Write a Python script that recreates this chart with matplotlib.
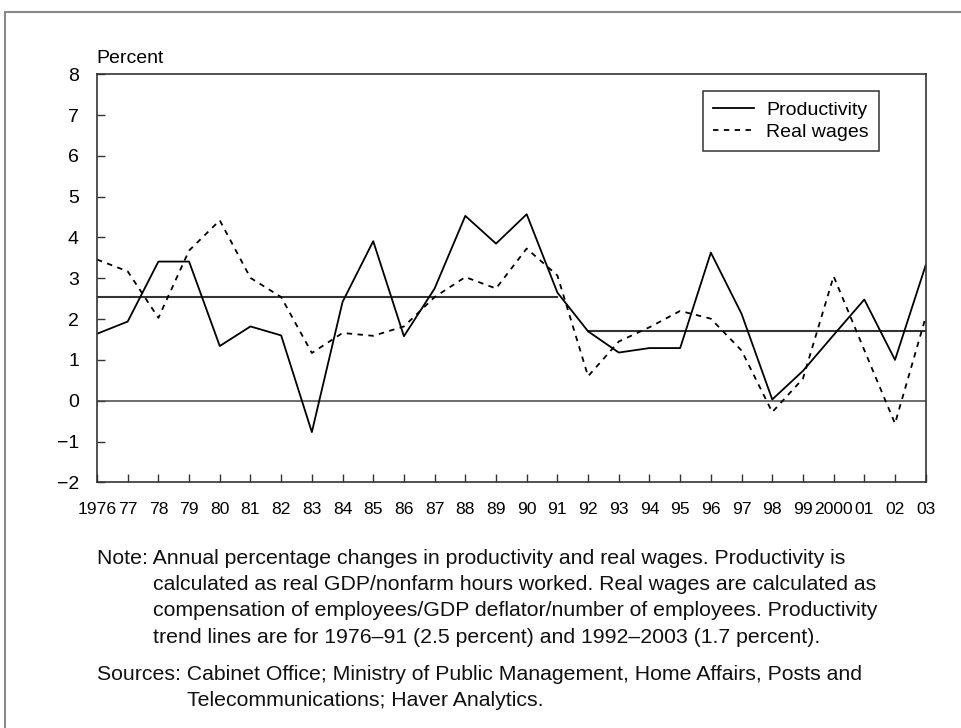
import matplotlib
matplotlib.use("Agg")
import matplotlib.pyplot as plt
from matplotlib.lines import Line2D

plt.rcParams['font.family'] = ['Liberation Sans', 'DejaVu Sans']

# data
years = list(range(1976, 2004))
productivity = [1.64, 1.94, 3.41, 3.41, 1.34, 1.82, 1.60, -0.77, 2.42, 3.91,
                1.58, 2.75, 4.53, 3.85, 4.57, 2.65, 1.70, 1.18, 1.29, 1.29,
                3.63, 2.13, 0.03, 0.73, 1.61, 2.48, 1.00, 3.32]
real_wages = [3.46, 3.17, 2.03, 3.68, 4.42, 3.01, 2.54, 1.17, 1.66, 1.59,
              1.82, 2.54, 3.03, 2.75, 3.73, 3.07, 0.60, 1.45, 1.80, 2.20,
              2.01, 1.23, -0.28, 0.54, 3.05, 1.24, -0.56, 2.05]
trend_periods = [(1976, 1991), (1992, 2003)]
trend_levels = [2.53, 1.70]
tick_labels = ["1976"] + [str(y)[2:] for y in range(1977, 2000)] + ["2000", "01", "02", "03"]

W, H = 962, 728
FS = 14
fig = plt.figure(figsize=(W / 100, H / 100), dpi=100)
fig.patch.set_facecolor("white")

ax = fig.add_axes([97 / W, 1 - 482.3 / H, 828.7 / W, 408 / H])

# zero line and trend lines
ax.plot([years[0], years[-1]], [0, 0], color="#444444", lw=1.1)
for (x0, x1), lvl in zip(trend_periods, trend_levels):
    ax.plot([x0, x1], [lvl, lvl], color="#333333", lw=1.5)

ax.plot(years, productivity, color="black", lw=1.3, label="Productivity")
ax.plot(years, real_wages, color="black", lw=1.3, ls=(0, (3, 3)), label="Real wages")

ax.set_xlim(1976, 2003)
ax.set_ylim(-2, 8)
ax.set_yticks(range(-2, 9))
ax.set_yticklabels([("\u2212" + str(-v)) if v < 0 else str(v) for v in range(-2, 9)])
ax.set_xticks(years)
ax.set_xticklabels(tick_labels)
ax.tick_params(axis="both", direction="in", length=6, width=1, color="#333333")
ax.tick_params(axis="y", labelsize=FS, pad=13)
ax.tick_params(axis="x", labelsize=12.6, pad=14)
for s in ax.spines.values():
    s.set_color("#333333")
    s.set_linewidth(1.2)

leg = ax.legend(loc="upper right",
                bbox_to_anchor=((879.3 - 97) / 828.7, (482.3 - 90.7) / 408),
                borderaxespad=0, fancybox=False, edgecolor="#333333", framealpha=1,
                fontsize=FS, handlelength=2.1, handletextpad=0.6, labelspacing=0.2,
                borderpad=0.55)
leg.get_frame().set_linewidth(1.1)

fig.text(96 / W, 1 - 63 / H, "Percent", fontsize=FS, va="baseline", ha="left")

# notes
note_lines = [
    (97, 563.7, "Note: Annual percentage changes in productivity and real wages. Productivity is"),
    (153, 590, "calculated as real GDP/nonfarm hours worked. Real wages are calculated as"),
    (153, 616.5, "compensation of employees/GDP deflator/number of employees. Productivity"),
    (153, 643, "trend lines are for 1976\u201391 (2.5 percent) and 1992\u20132003 (1.7 percent)."),
    (97, 680, "Sources: Cabinet Office; Ministry of Public Management, Home Affairs, Posts and"),
    (187, 706.5, "Telecommunications; Haver Analytics."),
]
for x, y, t in note_lines:
    fig.text(x / W, 1 - y / H, t, fontsize=15.3, va="baseline", ha="left", color="#111111")

# page frame (left and top edges)
fig.add_artist(Line2D([5 / W, 5 / W], [0, 1 - 11.5 / H], transform=fig.transFigure,
                      color="#888888", lw=1.5))
fig.add_artist(Line2D([5 / W, 1], [1 - 11.5 / H, 1 - 11.5 / H], transform=fig.transFigure,
                      color="#888888", lw=1.5))

fig.savefig("out.png", dpi=100)
